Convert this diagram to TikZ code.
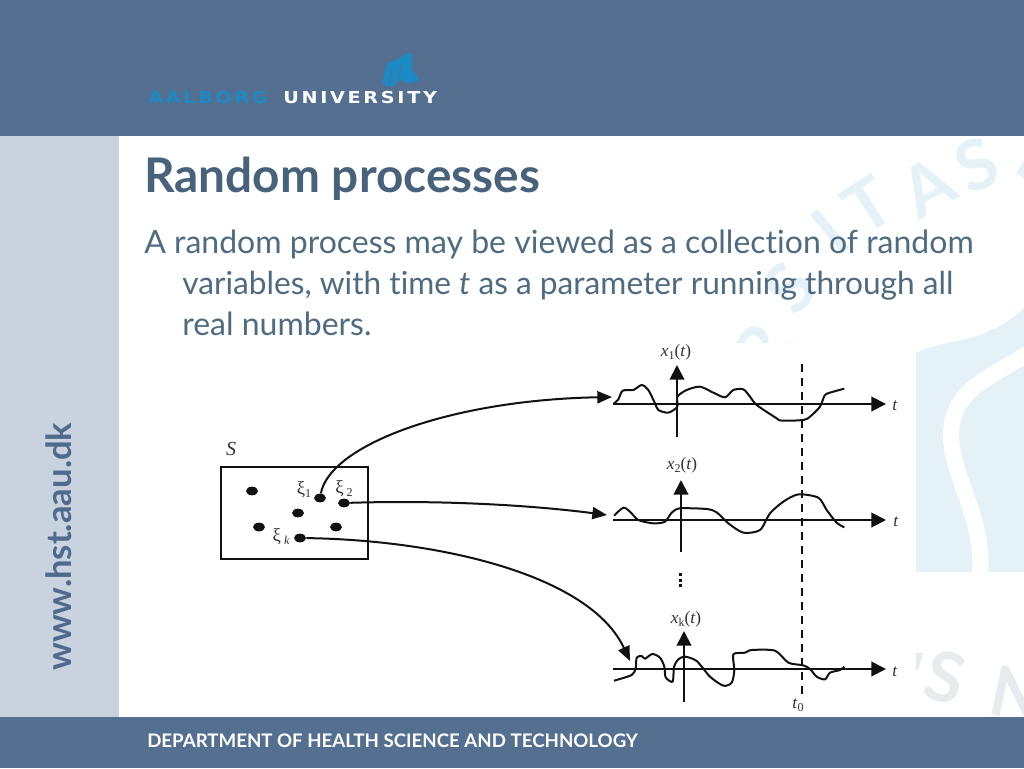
\documentclass[tikz,border=0pt]{standalone}
\usepackage{fontspec}
\setmainfont[Ligatures=NoCommon]{Lato}
\newfontfamily\tnr{Liberation Serif}
\newfontfamily\wide[LetterSpace=14]{DejaVu Sans}
\usetikzlibrary{arrows.meta,shapes.geometric}
\definecolor{band}{HTML}{556F91}
\definecolor{side}{HTML}{C9D2DF}
\definecolor{titlec}{HTML}{48627B}
\definecolor{bodyc}{HTML}{4F6B81}
\definecolor{sitec}{HTML}{4E6B8D}
\definecolor{wm}{HTML}{E4F2F8}
\definecolor{wmg}{HTML}{E8EBED}
\definecolor{logoc}{HTML}{1C8AC4}
\definecolor{ink}{HTML}{111111}
\definecolor{lab}{HTML}{333333}
\newcommand{\subl}[1]{\raisebox{-2.2pt}{\fontsize{9pt}{10pt}\selectfont #1}}
\tikzset{
  bodyline/.style={anchor=base west,inner sep=0pt,text=bodyc,font=\fontsize{24pt}{28pt}\selectfont},
  wmletter/.style={text=wm,inner sep=0pt,font=\fontsize{52pt}{52pt}\bfseries\selectfont},
  wmgrey/.style={text=wmg,inner sep=0pt,font=\fontsize{52pt}{52pt}\bfseries\selectfont},
  axis/.style={draw=ink,line width=1.5pt,-{Triangle[length=11pt,width=11pt]}},
  wave/.style={draw=ink,line width=1.5pt,line join=round,smooth,tension=0.45},
  link/.style={draw=ink,line width=1.5pt,-{Triangle[length=11pt,width=9pt]}},
  sdot/.style={ellipse,fill=ink,inner sep=0pt,minimum width=9pt,minimum height=6.5pt},
  lbl/.style={inner sep=0pt,text=lab,font=\fontsize{13pt}{14pt}\selectfont\tnr},
  xilbl/.style={inner sep=0pt,text=lab,font=\fontsize{14pt}{16pt}\selectfont\tnr},
  logotext/.style={anchor=base west,inner sep=0pt,font=\wide\fontsize{12.3pt}{14pt}\bfseries\selectfont},
  sub/.style={x=0.25pt,y=-0.25pt}
}
\begin{document}
\begin{tikzpicture}[x=0.75pt,y=-0.75pt]
\useasboundingbox (0,0) rectangle (1024,768);
% ground
\fill[white] (0,0) rectangle (1024,768);
% watermark
\fill[wm] (916,572) -- (916,353) .. controls (945,338) and (985,345) .. (1024,308) -- (1024,572) -- cycle;
\draw[white,line width=12pt] (1030,352) .. controls (990,378) and (951,390) .. (951,435) .. controls (951,475) and (985,520) .. (980,574);
\begin{scope}
\clip (732,136) rectangle (1024,342);
\node[wmletter,rotate=24] (w1) at (977,165) {S};
\node[wmletter,rotate=30] (w2) at (928,187) {A};
\node[wmletter,rotate=33] (w3) at (868,205) {T};
\node[wmletter,rotate=40] (w4) at (830,232) {I};
\node[wmletter,rotate=50] (w5) at (790,288) {S};
\node[wmletter,rotate=60] (w6) at (762,350) {R};
\fill[wm] (1016,174) -- (1024,160) -- (1024,178) -- cycle;
\end{scope}
\begin{scope}
\clip (916,572) rectangle (1024,717);
\node[wmgrey,rotate=-15] (w7) at (945,677) {S};
\node[wmgrey,rotate=-12] (w8) at (1018,695) {N};
\fill[wmg] (916,653) -- (923,653) -- (918,670) -- (916,670) -- cycle;
\end{scope}
% bands
\fill[band] (0,0) rectangle (1024,136);
\fill[band] (0,717) rectangle (1024,768);
\fill[side] (0,136) rectangle (119,717);
% logo
\fill[logoc,rounded corners=2pt] (382,85) -- (387,63) -- (397,60) -- (407,53) -- (412,53) -- (412,70) -- (420,80) -- (407,84) -- (400,78) -- (393,87) -- cycle;
\draw[band,line width=0.7pt] (392,68) -- (389,84);
\draw[band,line width=0.7pt] (402,64) -- (398,78);
\node[logotext,text=logoc,xscale=1.17] (aal) at (148,103) {AALBORG};
\node[logotext,text=white,xscale=1.17] (uni) at (283,103) {UNIVERSITY};
% texts
\node[anchor=base west,inner sep=0pt,text=titlec,font=\fontsize{35.8pt}{38pt}\bfseries\selectfont] (title) at (144,192) {Random processes};
\node[bodyline] (l1) at (144,253) {A random process may be viewed as a collection of random};
\node[bodyline,font=\fontsize{23.75pt}{28pt}\selectfont] (l2) at (182,294) {variables, with time \textit{t} as a parameter running through all};
\node[bodyline] (l3) at (182,335) {real numbers.};
\node[rotate=90,anchor=base west,inner sep=0pt,text=sitec,font=\fontsize{26pt}{28pt}\bfseries\selectfont] (site) at (71,671) {www.hst.aau.dk};
\node[anchor=base west,inner sep=0pt,text=white,font=\fontsize{14pt}{16pt}\bfseries\selectfont] (dept) at (147,747) {DEPARTMENT OF HEALTH SCIENCE AND TECHNOLOGY};
% set box
\node[draw=ink,line width=1.7pt,minimum width=110.25pt,minimum height=69pt,inner sep=0pt] (S) at (294.5,513) {};
\node[lbl,font=\fontsize{15pt}{16pt}\selectfont\itshape\tnr] (Slab) at (231,449) {S};
\node[sdot] (d1) at (252,491) {};
\node[sdot] (xi1) at (320,498) {};
\node[sdot] (xi2) at (344,503) {};
\node[sdot] (d2) at (298,513) {};
\node[sdot] (d3) at (259,527) {};
\node[sdot] (d4) at (336,527) {};
\node[sdot] (xik) at (300,538) {};
\node[xilbl] (xi1l) at (304,490) {ξ\subl{1}};
\node[xilbl] (xi2l) at (344,489) {ξ\,\subl{2}};
\node[xilbl] (xikl) at (281,537) {ξ\,\subl{\itshape k}};
% axes ends
\coordinate (a1l) at (613,404); \coordinate (a1r) at (886,404);
\coordinate (v1b) at (677,437); \coordinate (v1t) at (677,365);
\coordinate (a2l) at (613,520); \coordinate (a2r) at (886,520);
\coordinate (v2b) at (681,552); \coordinate (v2t) at (681,480);
\coordinate (a3l) at (613,669); \coordinate (a3r) at (886,669);
\coordinate (v3b) at (684,702); \coordinate (v3t) at (684,631);
\coordinate (dt) at (802,364); \coordinate (db) at (802,695);
\draw[axis] (a1l) -- (a1r);
\draw[axis] (v1b) -- (v1t);
\draw[axis] (a2l) -- (a2r);
\draw[axis] (v2b) -- (v2t);
\draw[axis] (a3l) -- (a3r);
\draw[axis] (v3b) -- (v3t);
\draw[draw=ink,line width=1.4pt,dash pattern=on 6pt off 4.5pt] (dt) -- (db);
% waves
\begin{scope}[shift={(600,340)},sub]
\draw[wave] plot coordinates {(42,190)(55,178)(68,152)(100,150)(125,135)(145,150)(165,190)(175,210)(205,218)(232,200)(232,170)(260,150)(300,140)(340,158)(375,172)(400,150)(430,148)(450,170)(470,195)(530,235)(545,242)(610,240)(630,230)(660,200)(675,165)(700,155)(733,146)};
\draw[wave] plot coordinates {(42,527)(70,503)(90,515)(115,540)(160,550)(195,545)(215,518)(240,505)(320,507)(350,517)(385,550)(430,578)(480,570)(510,520)(550,485)(595,463)(655,473)(680,510)(710,548)(733,562)};
\end{scope}
\begin{scope}[shift={(600,560)},sub]
\draw[wave] plot coordinates {(42,362)(95,345)(107,325)(110,293)(125,288)(135,296)(157,282)(180,293)(193,320)(197,352)(218,365)(222,320)(235,298)(255,290)(290,303)(330,350)(370,377)(395,368)(403,330)(400,283)(435,278)(455,270)(525,272)(565,308)(610,316)(630,327)(650,350)(675,358)(690,338)(720,330)(733,320)};
\end{scope}
% vertical dots
\fill[ink] (678.5,573) rectangle (681.5,576);
\fill[ink] (678.5,579) rectangle (681.5,582);
\fill[ink] (678.5,584) rectangle (681.5,587);
% axis labels
\node[lbl] (x1l) at (676,352) {\textit{x}\subl{1}(\textit{t})};
\node[lbl] (x2l) at (682,465) {\textit{x}\subl{2}(\textit{t})};
\node[lbl] (xkl) at (686,619) {\textit{x}\subl{k}(\textit{t})};
\node[lbl] (t1) at (895,406) {\textit{t}};
\node[lbl] (t2) at (896,522) {\textit{t}};
\node[lbl] (t3) at (895,672) {\textit{t}};
\node[lbl] (t0) at (798,705) {\textit{t}\subl{0}};
% links
\coordinate (e1) at (612,397);
\coordinate (e2) at (607,515);
\coordinate (e3) at (630,661);
\draw[link] (xi1) .. controls (330,445) and (450,400) .. (e1);
\draw[link] (xi2) .. controls (440,500) and (530,505) .. (e2);
\draw[link] (xik) .. controls (440,540) and (590,575) .. (e3);
\end{tikzpicture}
\end{document}
